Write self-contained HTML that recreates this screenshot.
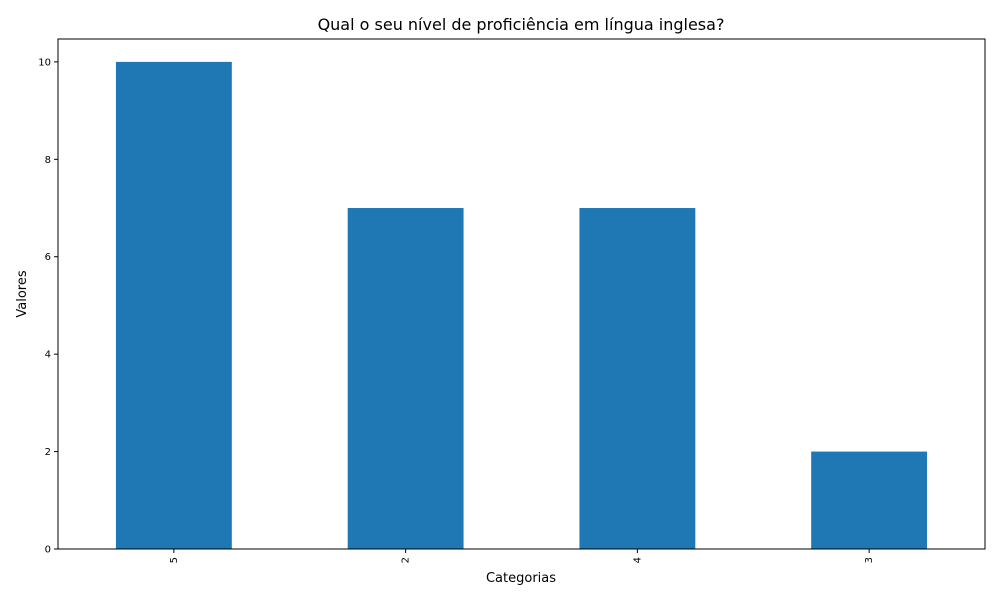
<!DOCTYPE html>
<html><head><meta charset="utf-8"><style>
body{margin:0;background:#fff;}
svg{display:block;font-family:"DejaVu Sans","Liberation Sans",sans-serif;}
</style></head><body>
<svg id="chart" width="1000" height="600">
<rect width="1000" height="600" fill="#fff"/>
<text x="521" y="30" font-size="16" text-anchor="middle">Qual o seu nível de proficiência em língua inglesa?</text>
<text x="521" y="582" font-size="13" text-anchor="middle">Categorias</text>
<text transform="translate(26,294) rotate(-90)" font-size="13" text-anchor="middle">Valores</text>
<g id="bars"></g><g id="ticks"></g>
<rect x="58" y="39" width="927" height="510" fill="none" stroke="#000" stroke-width="1"/>
</svg>
<script>
const categories = ["5","2","4","3"];
const values = [10,7,7,2];
const yTicks = [0,2,4,6,8,10];
const L=58,R=985,T=39,B=549,yMax=10.47;
const xs=i=>L+(i+0.5)*(R-L)/categories.length;
const ys=v=>B-v*(B-T)/yMax;
const bw=0.5*(R-L)/categories.length;
const ns="http://www.w3.org/2000/svg";
const bars=document.getElementById('bars'),ticks=document.getElementById('ticks');
function mk(tag,attrs,parent){const e=document.createElementNS(ns,tag);for(const k in attrs)e.setAttribute(k,attrs[k]);parent.appendChild(e);return e;}
categories.forEach((c,i)=>{
  const r=mk('rect',{x:xs(i)-bw/2,y:ys(values[i]),width:bw,height:B-ys(values[i]),fill:'#1f77b4'},bars);
  
  
  const t=mk('line',{x1:xs(i),x2:xs(i),y1:B,y2:B+4,stroke:'#000'},ticks);
  
  
  const l=mk('text',{transform:`translate(${xs(i)+3},${B+8}) rotate(-90)`,'font-size':'10','text-anchor':'end'},ticks);
  l.textContent=c;
  
  
});
yTicks.forEach(v=>{
  const t=mk('line',{x1:L-4,x2:L,y1:ys(v),y2:ys(v),stroke:'#000'},ticks);
  
  
  const l=mk('text',{x:L-7,y:ys(v)+3.5,'font-size':'10','text-anchor':'end'},ticks);
  l.textContent=v;
  
  
});
</script>
</body></html>
